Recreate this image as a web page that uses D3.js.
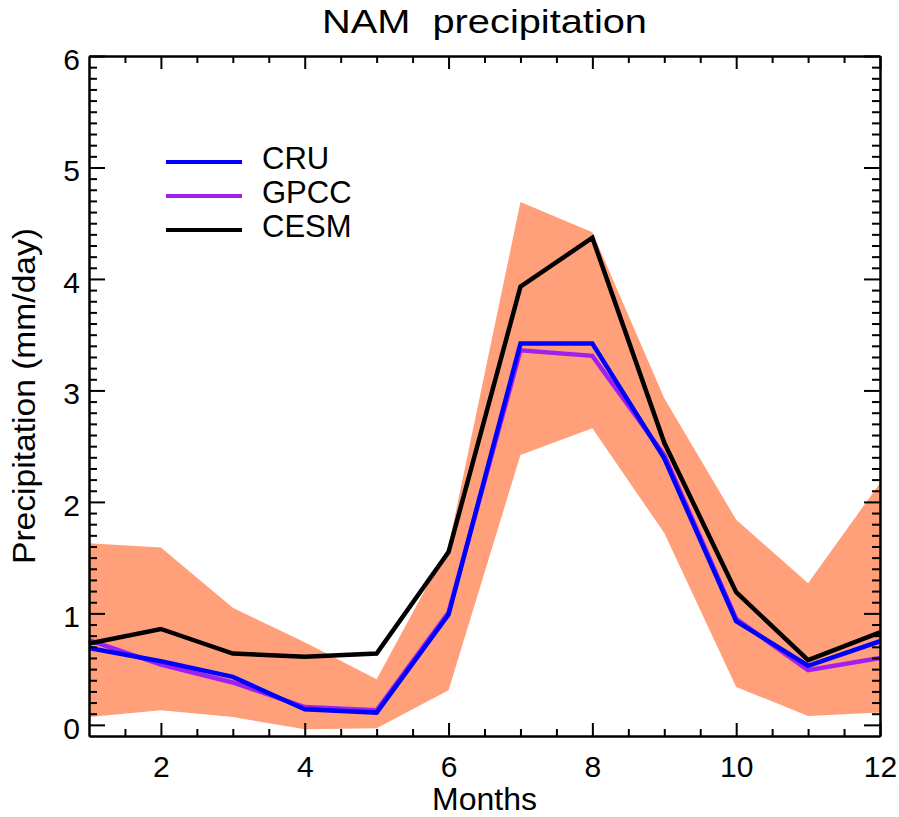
<!DOCTYPE html>
<html>
<head>
<meta charset="utf-8">
<script src="https://cdn.jsdelivr.net/npm/d3@7"></script>
<style>
  body { margin: 0; background: #fff; }
  text { font-family: "Liberation Sans", Arial, Helvetica, sans-serif; fill: #000; }
</style>
</head>
<body>
<section></section>
<script>
var months = [1, 2, 3, 4, 5, 6, 7, 8, 9, 10, 11, 12];
var cru  = [0.69, 0.57, 0.43, 0.14, 0.11, 0.99, 3.42, 3.42, 2.39, 0.93, 0.53, 0.75];
var gpcc = [0.76, 0.54, 0.38, 0.16, 0.13, 1.01, 3.36, 3.31, 2.42, 0.95, 0.49, 0.60];
var cesm = [0.73, 0.86, 0.64, 0.61, 0.64, 1.55, 3.93, 4.37, 2.53, 1.19, 0.58, 0.83];
var bandHigh = [1.63, 1.59, 1.05, 0.74, 0.41, 1.60, 4.69, 4.42, 2.93, 1.84, 1.27, 2.17];
var bandLow  = [0.07, 0.13, 0.07, -0.04, -0.03, 0.31, 2.42, 2.66, 1.72, 0.34, 0.08, 0.11];
var xTicks = [2, 4, 6, 8, 10, 12];
var yTicks = [0, 1, 2, 3, 4, 5, 6];
var seriesNames = ["CRU", "GPCC", "CESM"];
var seriesColors = ["#0000ff", "#a020f0", "#000000"];

var width = 899;
var height = 817;
var margin = {top: 56, right: 19, bottom: 81, left: 89};
var w = width - margin.left - margin.right;
var h = height - margin.top - margin.bottom;

var xScale = d3.scaleLinear().domain([1, 12]).range([0, w]);
var yScale = d3.scaleLinear().domain([-0.1, 6]).range([h, 0]);

var xMinor = d3.range(1.5, 12, 0.5).filter(function (d) { return xTicks.indexOf(d) < 0; });
var yMinor = d3.range(1, 61).map(function (d) { return d / 10; })
    .filter(function (d) { return Math.abs(d - Math.round(d)) > 0.01; });

var svg = d3.select("section")
    .append("svg")
    .attr("width", width)
    .attr("height", height)
    .append("g")
    .attr("transform", "translate(" + margin.left + "," + margin.top + ")");

// spread of the model runs
var band = d3.area()
    .x(function (d, i) { return xScale(months[i]); })
    .y0(function (d, i) { return yScale(bandLow[i]); })
    .y1(function (d) { return yScale(d); });

svg.append("path")
    .datum(bandHigh)
    .attr("d", band)
    .attr("fill", "#ffa07a");

var line = d3.line()
    .x(function (d, i) { return xScale(months[i]); })
    .y(function (d) { return yScale(d); });

// purple below blue, black on top
[gpcc, cru, cesm].forEach(function (s, k) {
    var col = [seriesColors[1], seriesColors[0], seriesColors[2]][k];
    svg.append("path")
        .datum(s)
        .attr("d", line)
        .attr("fill", "none")
        .attr("stroke", col)
        .attr("stroke-width", 4.5)
        .attr("stroke-linejoin", "miter");
});

function styleAxis(g) {
    g.selectAll("path").attr("stroke", "#000").attr("stroke-width", 2);
    g.selectAll("line").attr("stroke", "#000").attr("stroke-width", 2);
    g.selectAll("text").style("font-size", "30px").attr("fill", "#000");
}

// bottom axis with labels
svg.append("g")
    .attr("transform", "translate(0," + h + ")")
    .call(d3.axisBottom(xScale).tickValues(xTicks).tickSize(-13).tickSizeOuter(0).tickPadding(20))
    .call(styleAxis);
svg.append("g")
    .attr("transform", "translate(0," + h + ")")
    .call(d3.axisBottom(xScale).tickValues(xMinor).tickSize(-7).tickSizeOuter(0).tickFormat(""))
    .call(styleAxis);

// top axis, ticks only
svg.append("g")
    .call(d3.axisTop(xScale).tickValues(xTicks).tickSize(-13).tickSizeOuter(0).tickFormat(""))
    .call(styleAxis);
svg.append("g")
    .call(d3.axisTop(xScale).tickValues(xMinor).tickSize(-7).tickSizeOuter(0).tickFormat(""))
    .call(styleAxis);

// left axis with labels
var yLeft = svg.append("g")
    .call(d3.axisLeft(yScale).tickValues(yTicks).tickFormat(d3.format("d"))
        .tickSize(-16).tickSizeOuter(0).tickPadding(9))
    .call(styleAxis);
yLeft.selectAll("text").attr("dy", "0.45em");
svg.append("g")
    .call(d3.axisLeft(yScale).tickValues(yMinor).tickSize(-8).tickSizeOuter(0).tickFormat(""))
    .call(styleAxis);

// right axis, ticks only
svg.append("g")
    .attr("transform", "translate(" + w + ",0)")
    .call(d3.axisRight(yScale).tickValues(yTicks).tickSize(-16).tickSizeOuter(0).tickFormat(""))
    .call(styleAxis);
svg.append("g")
    .attr("transform", "translate(" + w + ",0)")
    .call(d3.axisRight(yScale).tickValues(yMinor).tickSize(-8).tickSizeOuter(0).tickFormat(""))
    .call(styleAxis);

// title (two spaces kept)
svg.append("text")
    .attr("x", w / 2)
    .attr("y", -23)
    .attr("text-anchor", "middle")
    .attr("xml:space", "preserve")
    .style("white-space", "pre")
    .attr("textLength", 325)
    .attr("lengthAdjust", "spacingAndGlyphs")
    .style("font-size", "34px")
    .text("NAM  precipitation");

// axis titles
svg.append("text")
    .attr("x", w / 2)
    .attr("y", h + 74)
    .attr("text-anchor", "middle")
    .style("font-size", "32px")
    .text("Months");

svg.append("text")
    .attr("transform", "translate(-54," + (h / 2) + ") rotate(-90)")
    .attr("text-anchor", "middle")
    .attr("textLength", 336)
    .attr("lengthAdjust", "spacingAndGlyphs")
    .style("font-size", "32px")
    .text("Precipitation (mm/day)");

// legend
var legend = svg.append("g")
    .attr("transform", "translate(77,106)");

legend.selectAll("line")
    .data(seriesNames)
    .enter()
    .append("line")
    .attr("x1", 0)
    .attr("x2", 76)
    .attr("y1", function (d, i) { return i * 34; })
    .attr("y2", function (d, i) { return i * 34; })
    .attr("stroke", function (d, i) { return seriesColors[i]; })
    .attr("stroke-width", 4);

legend.selectAll("text")
    .data(seriesNames)
    .enter()
    .append("text")
    .attr("x", 96)
    .attr("y", function (d, i) { return i * 34 + 7; })
    .style("font-size", "31px")
    .text(function (d) { return d; });
</script>
</body>
</html>
